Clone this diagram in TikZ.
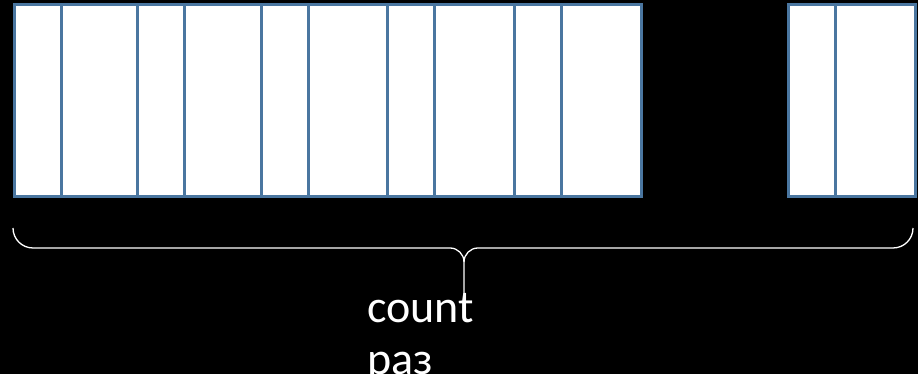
\documentclass[tikz,border=0pt]{standalone}
\usepackage{fontspec}
\setmainfont{Carlito}
\usetikzlibrary{positioning,calc}
\definecolor{cellblue}{RGB}{74,118,160}
\tikzset{
  cell/.style={draw=cellblue, fill=white, line width=2.5pt, inner sep=0pt,
    minimum height=192pt, anchor=south west},
  bracepath/.style={draw=white, line width=1.3pt},
  countlabel/.style={text=white, align=left, inner sep=0pt,
    font=\fontsize{46}{52}\selectfont}
}

\begin{document}
\begin{tikzpicture}[x=1pt,y=1pt]
    \fill[black] (0,0) rectangle (918,374);
    \useasboundingbox (0,0) rectangle (918,374);
    \clip (0,0) rectangle (918,374);
    % cells of the array
    \foreach \xa/\xb [count=\i] in {13/60,60/136,136/183,183/260,260/307,
        307/386,386/433,433/513,513/560,560/640}
      \node[cell, minimum width={(\xb-\xa)*1pt}] (c\i) at (\xa,176) {};
    % last cells
    \node[cell, minimum width=47pt] (r1) at (787,176) {};
    \node[cell, minimum width=80pt] (r2) at (834,176) {};
    % brace under the array
    \coordinate (bl) at (13,146);
    \coordinate (br) at (913,146);
    \coordinate (bm) at (464,112);
    \coordinate (tip) at (464,74);
    \draw[bracepath] (bl) to[out=-90,in=180] (33,126) -- (450,126)
      to[out=0,in=90] (bm) -- (tip);
    \draw[bracepath] (br) to[out=-90,in=0] (893,126) -- (478,126)
      to[out=180,in=90] (bm);
    % last line's baseline is the node's base
    \node[countlabel, anchor=base west] (cnt) at (367,-1) {count\\раз};
  \end{tikzpicture}
\end{document}
